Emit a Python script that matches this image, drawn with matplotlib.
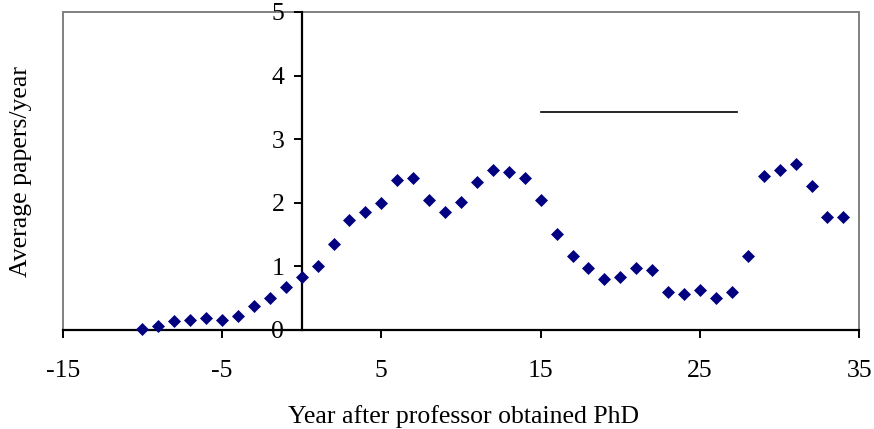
import matplotlib
matplotlib.use("Agg")
import matplotlib.pyplot as plt
from matplotlib.patches import Rectangle

years = list(range(-10, 35))
papers = [0.02, 0.06, 0.14, 0.16, 0.19, 0.16, 0.22, 0.38, 0.50, 0.68,
          0.84, 1.01, 1.35, 1.73, 1.86, 1.99, 2.36, 2.39, 2.04, 1.86,
          2.02, 2.33, 2.52, 2.48, 2.39, 2.04, 1.51, 1.16, 0.98, 0.80,
          0.83, 0.98, 0.95, 0.60, 0.57, 0.63, 0.50, 0.60, 1.17, 2.42,
          2.52, 2.61, 2.26, 1.77, 1.77]
line_x = [15, 27.3]
line_y = [3.43, 3.43]
xticks = [-15, -5, 5, 15, 25, 35]
yticks = [0, 1, 2, 3, 4, 5]
xlabel = "Year after professor obtained PhD"
ylabel = "Average papers/year"

plt.rcParams['font.family'] = ['Liberation Serif', 'DejaVu Serif']
FS = 18.5
W, H = 874, 429
fig = plt.figure(figsize=(W / 100, H / 100), dpi=100)
L, R, T, B = 62.7, 859.3, 12, 330
ax = fig.add_axes([L / W, 1 - B / H, (R - L) / W, (B - T) / H])
ax.set_xlim(-15, 35)
ax.set_ylim(0, 5)

# gray plot-area frame
ax.add_patch(Rectangle((0, 0), 1, 1, transform=ax.transAxes, fill=False,
                       edgecolor='#808080', linewidth=1.4, clip_on=False, zorder=0.5))
for s in ['top', 'right']:
    ax.spines[s].set_visible(False)
ax.spines['left'].set_position(('data', 0))
ax.spines['left'].set_color('black')
ax.spines['left'].set_linewidth(1.6)
ax.spines['bottom'].set_color('black')
ax.spines['bottom'].set_linewidth(1.6)

ax.set_xticks(xticks)
ax.set_xticklabels([str(v) for v in xticks])
ax.set_yticks(yticks)
ax.set_yticklabels([str(v) for v in yticks])
ax.tick_params(axis='x', direction='out', length=5.8, width=1.4, pad=15.5, labelsize=FS)
ax.tick_params(axis='y', direction='out', length=5.5, width=1.4, pad=7, labelsize=FS)

ax.plot(years, papers, linestyle='none', marker='D', markersize=6.6,
        markerfacecolor='#000080', markeredgecolor='#000080', markeredgewidth=0.5,
        clip_on=False, zorder=3)
ax.plot(line_x, line_y, color='black', linewidth=1.2)

fig.text(463.5 / W, 1 - 423.3 / H, xlabel, ha='center', va='baseline', fontsize=FS)
fig.text(26.7 / W, 1 - 171.5 / H, ylabel, ha='center', va='baseline', rotation=90,
         rotation_mode='anchor', fontsize=FS)

fig.savefig("out.png", dpi=100)
